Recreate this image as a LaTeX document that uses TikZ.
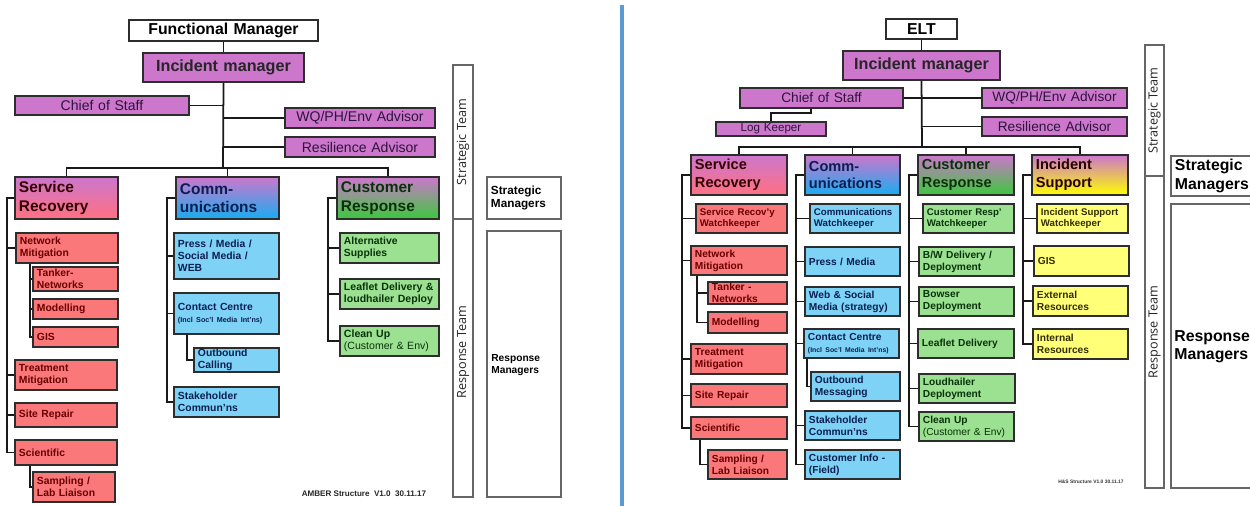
\documentclass[tikz,border=0pt]{standalone}
\usepackage{fontspec}
\setmainfont{Liberation Sans}
\newfontfamily\osf{Open Sans}
\definecolor{bdr}{RGB}{45,45,45}
\definecolor{purpf}{RGB}{204,119,204}
\definecolor{purpt}{RGB}{45,20,60}
\definecolor{redf}{RGB}{250,120,122}
\definecolor{redt}{RGB}{105,0,0}
\definecolor{bluef}{RGB}{125,210,245}
\definecolor{bluet}{RGB}{10,30,80}
\definecolor{greenf}{RGB}{155,225,145}
\definecolor{greent}{RGB}{10,50,10}
\definecolor{yelf}{RGB}{255,255,120}
\definecolor{yelt}{RGB}{50,45,0}
\definecolor{srbot}{RGB}{255,112,130}
\definecolor{cobot}{RGB}{25,172,240}
\definecolor{crbot}{RGB}{60,200,60}
\definecolor{isbot}{RGB}{255,255,0}
\definecolor{divc}{RGB}{91,155,213}
\newcommand\bx[7]{%
  \pgfmathsetmacro\BXw{(#4-#2)*0.5690551}%
  \pgfmathsetmacro\BXh{(#5-#3)*0.5690551}%
  \pgfmathsetmacro\BXt{\BXw-4.5}%
  \node[#6, minimum width=\BXw pt, minimum height=\BXh pt, text width=\BXt pt] (#1) at ({(#2+#4)/2},{(#3+#5)/2}) {#7};}
\tikzset{
  bx/.style={draw=bdr, line width=0.9pt, inner xsep=2pt, inner ysep=0.3pt, align=left, font=\bfseries\fontsize{5.9}{6.9}\selectfont},
  rb/.style={bx, fill=redf, text=redt},
  bb/.style={bx, fill=bluef, text=bluet},
  gb/.style={bx, fill=greenf, text=greent},
  yb/.style={bx, fill=yelf, text=yelt},
  pb/.style={bx, fill=purpf, text=purpt, align=center, font=\fontsize{8}{9.5}\selectfont},
  tb/.style={bx, fill=white, text=black, align=center, font=\bfseries\fontsize{9}{10}\selectfont},
  imb/.style={bx, fill=purpf, text=black!85, align=center, font=\bfseries\fontsize{9.2}{11}\selectfont},
  hd/.style={bx, top color=purpf, font=\bfseries\fontsize{8.8}{10.5}\selectfont},
  hdr/.style={bx, top color=purpf, font=\bfseries\fontsize{8.3}{10}\selectfont},
  wk/.style={font=\bfseries\fontsize{5.5}{6.5}\selectfont},
  sm/.style={font=\bfseries\fontsize{5.8}{6.8}\selectfont},
  gbx/.style={draw=black!60, line width=0.8pt, fill=white, inner sep=0pt},
  con/.style={line width=1pt, draw=black!90},
  rot/.style={rotate=90, font=\osf\fontsize{7.2}{8}\selectfont, text=black!85},
}
\begin{document}
\begin{tikzpicture}[x=0.02cm, y=-0.02cm]
\useasboundingbox (0,0) rectangle (1250,506);
\fill[white] (0,0) rectangle (1250,506);

% divider
\coordinate (dvT) at (622,5);
\coordinate (dvB) at (622,506);
\draw[line width=1.8pt, draw=divc] (dvT) -- (dvB);

%%%%%%%%%%%%%%%% LEFT %%%%%%%%%%%%%%%%
\bx{fmL}{129}{20}{318}{41}{tb}{Functional Manager}
\bx{imL}{143}{53}{304}{82}{imb}{Incident manager}
\bx{cosL}{15}{96}{189}{115}{pb}{Chief of Staff}
\bx{wqL}{285}{108}{435}{128}{pb}{WQ/PH/Env Advisor}
\bx{raL}{285}{137}{435}{157}{pb}{Resilience Advisor}
\bx{srL}{15}{177}{118}{219}{hd, bottom color=srbot, text=black!80!red}{Service\\Recovery}
\bx{coL}{176}{177}{279}{219}{hd, bottom color=cobot, text=bluet}{Comm-\\unications}
\bx{crL}{337}{177}{439}{219}{hd, bottom color=crbot, text=greent}{Customer\\Response}

\bx{nmL}{16}{233}{118}{263}{rb}{Network\\Mitigation}
\bx{tnL}{33}{267}{118}{291}{rb}{Tanker-\\Networks}
\bx{moL}{33}{299}{118}{319}{rb}{Modelling}
\bx{gisL}{33}{327}{118}{347}{rb}{GIS}
\bx{tmL}{15}{360}{117}{390}{rb}{Treatment\\Mitigation}
\bx{sprL}{15}{403}{117}{427}{rb}{Site Repair}
\bx{sciL}{15}{440}{117}{465}{rb}{Scientific}
\bx{slL}{33}{472}{115}{502}{rb}{Sampling /\\Lab Liaison}

\bx{pmL}{174}{233}{279}{279}{bb}{Press / Media /\\Social Media /\\WEB}
\bx{ccL}{174}{293}{279}{334}{bb}{Contact Centre\\{\fontsize{4.1}{5.5}\selectfont (Incl Soc'l Media Int'ns)}}
\bx{ocL}{194}{348}{279}{372}{bb}{Outbound\\Calling}
\bx{shL}{174}{387}{279}{417}{bb}{Stakeholder\\Commun'ns}

\bx{asL}{340}{233}{439}{263}{gb}{Alternative\\Supplies}
\bx{ldL}{340}{279}{439}{309}{gb, font=\bfseries\fontsize{6}{7}\selectfont}{Leaflet Delivery \&\\loudhailer Deploy}
\bx{cuL}{340}{326}{439}{356}{gb, font=\bfseries\fontsize{6}{7}\selectfont}{Clean Up\\\mdseries(Customer \& Env)}

\node[font=\bfseries\fontsize{4.6}{5}\selectfont, text=black!85] (ftL) at (364,494) {AMBER Structure\ \ V1.0\ \ 30.11.17};

\bx{tcL1}{453}{65}{473}{219}{gbx}{}
\bx{tcL2}{453}{219}{473}{497}{gbx}{}
\node[rot] (stL) at (tcL1.center) {Strategic Team};
\node[rot] (rtL) at (463,352) {Response Team};
\bx{smL}{487}{177}{561}{219}{gbx, inner xsep=2pt, align=left, font=\bfseries\fontsize{6.7}{7.8}\selectfont}{Strategic\\Managers}
\bx{rmL}{487}{231}{561}{497}{gbx}{}
\node[anchor=west, align=left, font=\bfseries\fontsize{5.8}{7}\selectfont, inner sep=0pt] (rmLt) at (491,365) {Response\\Managers};

% left connectors
\coordinate (busL) at (223,168);
\draw[con] (fmL.south) -- (imL.north);
\draw[con] (imL.south) -- (busL);
\draw[con] (cosL.east) -- (cosL.east -| busL);
\draw[con] (wqL.west) -- (wqL.west -| busL);
\draw[con] (raL.west) -- (raL.west -| busL);
\draw[con] (srL.north) -- (srL.north |- busL) -- (crL.north |- busL) -- (crL.north);
\draw[con] (coL.north) -- (coL.north |- busL);

\coordinate (srLs) at (7,198);
\draw[con] (srL.west) -- (srL.west -| srLs) -- (srLs |- sciL.west) -- (sciL.west);
\foreach \c in {nmL,tmL,sprL} \draw[con] (srLs |- \c.west) -- (\c.west);
\coordinate (nmLs) at (30,263);
\draw[con] (nmLs |- nmL.south) -- (nmLs |- gisL.west) -- (gisL.west);
\foreach \c in {tnL,moL} \draw[con] (nmLs |- \c.west) -- (\c.west);
\draw[con] (nmLs |- sciL.south) -- (nmLs |- slL.west) -- (slL.west);

\coordinate (coLs) at (167,198);
\draw[con] (coL.west) -- (coL.west -| coLs) -- (coLs |- shL.west) -- (shL.west);
\foreach \c in {pmL,ccL} \draw[con] (coLs |- \c.west) -- (\c.west);
\coordinate (ccLs) at (187,334);
\draw[con] (ccLs |- ccL.south) -- (ccLs |- ocL.west) -- (ocL.west);

\coordinate (crLs) at (328,198);
\draw[con] (crL.west) -- (crL.west -| crLs) -- (crLs |- cuL.west) -- (cuL.west);
\foreach \c in {asL,ldL} \draw[con] (crLs |- \c.west) -- (\c.west);

%%%%%%%%%%%%%%%% RIGHT %%%%%%%%%%%%%%%%
\bx{eltR}{886}{19}{957}{39}{tb}{ELT}
\bx{imR}{843}{51}{1000}{80}{imb}{Incident manager}
\bx{cosR}{740}{88}{903}{108}{pb, font=\fontsize{7.8}{9}\selectfont}{Chief of Staff}
\bx{wqR}{982}{88}{1127}{108}{pb, font=\fontsize{7.8}{9}\selectfont}{WQ/PH/Env Advisor}
\bx{lkR}{716}{122}{826}{136}{pb, font=\fontsize{6.6}{7.5}\selectfont}{Log Keeper}
\bx{raR}{982}{117}{1127}{136}{pb, font=\fontsize{7.8}{9}\selectfont}{Resilience Advisor}

\bx{srR}{691}{155}{787}{195}{hdr, bottom color=srbot, text=black!80!red}{Service\\Recovery}
\bx{coR}{805}{155}{900}{195}{hdr, bottom color=cobot, text=bluet}{Comm-\\unications}
\bx{crR}{918}{155}{1014}{195}{hdr, bottom color=crbot, text=greent}{Customer\\Response}
\bx{isR}{1032}{155}{1128}{195}{hdr, bottom color=isbot, text=black!85!red}{Incident\\Support}

\bx{wsR}{696}{204}{787}{233}{rb, wk}{Service Recov'y\\Watchkeeper}
\bx{wcR}{810}{204}{900}{233}{bb, wk}{Communications\\Watchkeeper}
\bx{wcrR}{923}{204}{1014}{233}{gb, wk}{Customer Resp'\\Watchkeeper}
\bx{wisR}{1037}{204}{1128}{233}{yb, wk}{Incident Support\\Watchkeeper}

\bx{nmR}{691}{246}{787}{275}{rb, sm}{Network\\Mitigation}
\bx{tnR}{708}{282}{787}{304}{rb, sm}{Tanker -\\Networks}
\bx{moR}{708}{312}{787}{333}{rb, sm}{Modelling}
\bx{tmR}{691}{344}{787}{374}{rb, sm}{Treatment\\Mitigation}
\bx{sprR}{691}{384}{787}{407}{rb, sm}{Site Repair}
\bx{sciR}{691}{417}{787}{439}{rb, sm}{Scientific}
\bx{slR}{708}{450}{787}{479}{rb, sm}{Sampling /\\Lab Liaison}

\bx{pmR}{805}{247}{900}{276}{bb, sm}{Press / Media}
\bx{wsmR}{805}{287}{900}{316}{bb, sm}{Web \& Social\\Media (strategy)}
\bx{ccR}{804}{329}{899}{358}{bb, sm}{Contact Centre\\{\fontsize{3.9}{5.2}\selectfont (Incl Soc'l Media Int'ns)}}
\bx{omR}{811}{372}{900}{401}{bb, sm}{Outbound\\Messaging}
\bx{shR}{805}{411}{900}{440}{bb, sm}{Stakeholder\\Commun'ns}
\bx{ciR}{805}{450}{900}{479}{bb, sm}{Customer Info -\\(Field)}

\bx{bwR}{919}{247}{1014}{276}{gb, sm}{B/W Delivery /\\Deployment}
\bx{bdR}{919}{287}{1014}{316}{gb, sm}{Bowser\\Deployment}
\bx{lfR}{918}{329}{1014}{358}{gb, sm}{Leaflet Delivery}
\bx{lhR}{919}{374}{1015}{403}{gb, sm}{Loudhailer\\Deployment}
\bx{cuR}{919}{412}{1014}{441}{gb, sm}{Clean Up\\\mdseries(Customer \& Env)}

\bx{gisR}{1034}{246}{1129}{276}{yb, sm}{GIS}
\bx{erR}{1033}{286}{1128}{316}{yb, sm}{External\\Resources}
\bx{irR}{1033}{329}{1128}{359}{yb, sm}{Internal\\Resources}

\node[font=\bfseries\fontsize{2.8}{3}\selectfont, text=black!80] (ftR) at (1091,482) {H\&S Structure V1.0 30.11.17};

\bx{tcR1}{1145}{45}{1164}{176}{gbx}{}
\bx{tcR2}{1145}{176}{1164}{488}{gbx}{}
\node[rot] (stR) at (tcR1.center) {Strategic Team};
\node[rot] (rtR) at (1154.5,332) {Response Team};
\bx{smR}{1171}{156}{1262}{196}{gbx, inner xsep=2pt, align=left, font=\bfseries\fontsize{9}{10.5}\selectfont}{Strategic\\Managers}
\bx{rmR}{1171}{204}{1262}{488}{gbx}{}
\node[anchor=west, align=left, font=\bfseries\fontsize{9}{10.5}\selectfont, inner sep=0pt] (rmRt) at (1174,347) {Response\\Managers};

% right connectors
\coordinate (busR) at (922,147);
\draw[con] (eltR.south) -- (imR.north);
\draw[con] (imR.south) -- (busR);
\draw[con] (cosR.east) -- (wqR.west);
\draw[con] (raR.west) -- (raR.west -| busR);
\coordinate (lkA) at (811,113);
\draw[con] (lkA |- cosR.south) -- (lkA) -- (lkA -| lkR.north) -- (lkR.north);
\draw[con] (srR.north) -- (srR.north |- busR) -- (isR.north |- busR) -- (isR.north);
\draw[con] (coR.north) -- (coR.north |- busR);
\draw[con] (crR.north) -- (crR.north |- busR);

\coordinate (srRs) at (682,175);
\draw[con] (srR.west) -- (srR.west -| srRs) -- (srRs |- sciR.west) -- (sciR.west);
\foreach \c in {wsR,nmR,tmR,sprR} \draw[con] (srRs |- \c.west) -- (\c.west);
\coordinate (nmRs) at (697,275);
\draw[con] (nmRs |- nmR.south) -- (nmRs |- moR.west) -- (moR.west);
\draw[con] (nmRs |- tnR.west) -- (tnR.west);
\coordinate (sciRs) at (700,439);
\draw[con] (sciRs |- sciR.south) -- (sciRs |- slR.west) -- (slR.west);

\coordinate (coRs) at (796,175);
\draw[con] (coR.west) -- (coR.west -| coRs) -- (coRs |- ciR.west) -- (ciR.west);
\foreach \c in {wcR,pmR,wsmR,ccR,shR} \draw[con] (coRs |- \c.west) -- (\c.west);
\coordinate (ccRs) at (807,358);
\draw[con] (ccRs |- ccR.south) -- (ccRs |- omR.west) -- (omR.west);

\coordinate (crRs) at (909,175);
\draw[con] (crR.west) -- (crR.west -| crRs) -- (crRs |- cuR.west) -- (cuR.west);
\foreach \c in {wcrR,bwR,bdR,lfR,lhR} \draw[con] (crRs |- \c.west) -- (\c.west);

\coordinate (isRs) at (1023,175);
\draw[con] (isR.west) -- (isR.west -| isRs) -- (isRs |- irR.west) -- (irR.west);
\foreach \c in {wisR,gisR,erR} \draw[con] (isRs |- \c.west) -- (\c.west);
\end{tikzpicture}
\end{document}
